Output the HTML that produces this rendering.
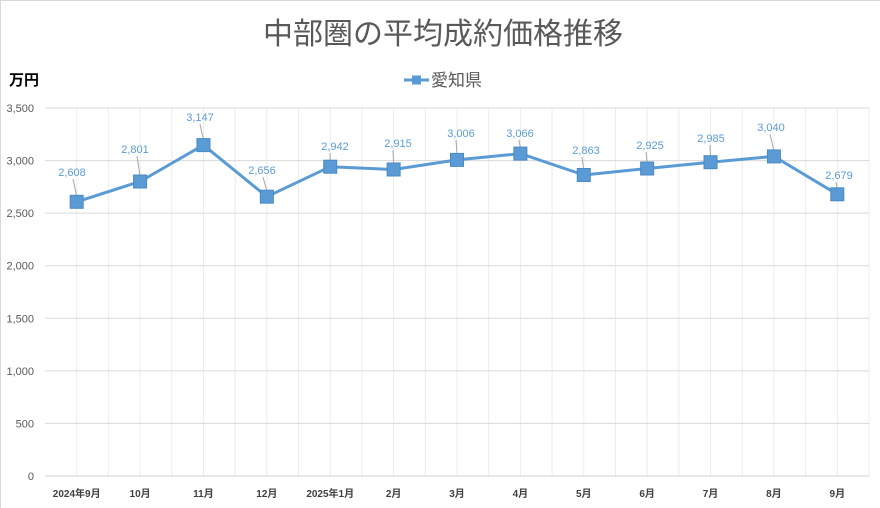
<!DOCTYPE html>
<html><head><meta charset="utf-8"><style>
html,body{margin:0;padding:0;background:#fff}
svg{display:block}
</style></head><body>
<svg width="880" height="508" xmlns="http://www.w3.org/2000/svg" font-family="Liberation Sans, Noto Sans CJK JP, sans-serif">
<rect x="0.5" y="0.5" width="890" height="520" fill="#fff" stroke="#d9d9d9"/>
<text x="443" y="44" font-size="30" fill="#595959" text-anchor="middle" font-family="Noto Sans CJK JP, sans-serif">中部圏の平均成約価格推移</text>
<text x="9" y="85" font-size="15" font-weight="bold" fill="#000" font-family="Noto Sans CJK JP, sans-serif">万円</text>
<line x1="404" y1="80" x2="429" y2="80" stroke="#5b9bd5" stroke-width="3"/>
<rect x="412" y="75.5" width="9" height="9" fill="#5b9bd5"/>
<text x="431" y="86" font-size="17" fill="#595959" font-family="Noto Sans CJK JP, sans-serif">愛知県</text>
<g stroke="#ececec" stroke-width="1">
<line x1="76.69" y1="108" x2="76.69" y2="476"/><line x1="108.38" y1="108" x2="108.38" y2="476"/><line x1="140.08" y1="108" x2="140.08" y2="476"/><line x1="171.77" y1="108" x2="171.77" y2="476"/><line x1="203.46" y1="108" x2="203.46" y2="476"/><line x1="235.15" y1="108" x2="235.15" y2="476"/><line x1="266.85" y1="108" x2="266.85" y2="476"/><line x1="298.54" y1="108" x2="298.54" y2="476"/><line x1="330.23" y1="108" x2="330.23" y2="476"/><line x1="361.92" y1="108" x2="361.92" y2="476"/><line x1="393.62" y1="108" x2="393.62" y2="476"/><line x1="425.31" y1="108" x2="425.31" y2="476"/><line x1="457" y1="108" x2="457" y2="476"/><line x1="488.69" y1="108" x2="488.69" y2="476"/><line x1="520.38" y1="108" x2="520.38" y2="476"/><line x1="552.08" y1="108" x2="552.08" y2="476"/><line x1="583.77" y1="108" x2="583.77" y2="476"/><line x1="615.46" y1="108" x2="615.46" y2="476"/><line x1="647.15" y1="108" x2="647.15" y2="476"/><line x1="678.85" y1="108" x2="678.85" y2="476"/><line x1="710.54" y1="108" x2="710.54" y2="476"/><line x1="742.23" y1="108" x2="742.23" y2="476"/><line x1="773.92" y1="108" x2="773.92" y2="476"/><line x1="805.62" y1="108" x2="805.62" y2="476"/><line x1="837.31" y1="108" x2="837.31" y2="476"/><line x1="869" y1="108" x2="869" y2="476"/>
</g>
<g stroke="#d9d9d9" stroke-width="1">
<line x1="45" y1="108" x2="869" y2="108"/><line x1="45" y1="160.57" x2="869" y2="160.57"/><line x1="45" y1="213.14" x2="869" y2="213.14"/><line x1="45" y1="265.71" x2="869" y2="265.71"/><line x1="45" y1="318.29" x2="869" y2="318.29"/><line x1="45" y1="370.86" x2="869" y2="370.86"/><line x1="45" y1="423.43" x2="869" y2="423.43"/><line x1="45" y1="476" x2="869" y2="476" stroke="#d0d0d0"/>
</g>
<g font-size="11" fill="#595959" text-anchor="end">
<text x="34" y="112">3,500</text><text x="34" y="164.6">3,000</text><text x="34" y="217.1">2,500</text><text x="34" y="269.7">2,000</text><text x="34" y="322.3">1,500</text><text x="34" y="374.9">1,000</text><text x="34" y="427.4">500</text><text x="34" y="480">0</text>
</g>
<g font-size="10" font-weight="bold" fill="#404040" text-anchor="middle">
<text x="76.69" y="497">2024年9月</text><text x="140.08" y="497">10月</text><text x="203.46" y="497">11月</text><text x="266.85" y="497">12月</text><text x="330.23" y="497">2025年1月</text><text x="393.62" y="497">2月</text><text x="457" y="497">3月</text><text x="520.38" y="497">4月</text><text x="583.77" y="497">5月</text><text x="647.15" y="497">6月</text><text x="710.54" y="497">7月</text><text x="773.92" y="497">8月</text><text x="837.31" y="497">9月</text>
</g>
<g stroke="#a6a6a6" stroke-width="1">
<line x1="73" y1="179" x2="76.69" y2="196"/><line x1="137" y1="156" x2="140.08" y2="176"/><line x1="200" y1="124" x2="203.46" y2="140"/><line x1="263" y1="177" x2="266.85" y2="191"/><line x1="330" y1="153" x2="330.23" y2="161"/><line x1="393" y1="150" x2="393.62" y2="164"/><line x1="456" y1="140" x2="457" y2="154"/><line x1="519" y1="140" x2="520.38" y2="148"/><line x1="582" y1="157" x2="583.77" y2="170"/><line x1="646" y1="152" x2="647.15" y2="163"/><line x1="710" y1="145" x2="710.54" y2="157"/><line x1="770" y1="134" x2="773.92" y2="151"/><line x1="836" y1="182" x2="837.31" y2="189"/>
</g>
<polyline points="76.69,201.8 140.08,181.5 203.46,145.1 266.85,196.7 330.23,166.7 393.62,169.5 457,159.9 520.38,153.6 583.77,175 647.15,168.5 710.54,162.2 773.92,156.4 837.31,194.3" fill="none" stroke="#5b9bd5" stroke-width="3" stroke-linejoin="round"/>
<g fill="#5b9bd5" stroke="#4a8ac4" stroke-width="1">
<rect x="70.19" y="195.3" width="13" height="13"/><rect x="133.58" y="175" width="13" height="13"/><rect x="196.96" y="138.6" width="13" height="13"/><rect x="260.35" y="190.2" width="13" height="13"/><rect x="323.73" y="160.2" width="13" height="13"/><rect x="387.12" y="163" width="13" height="13"/><rect x="450.5" y="153.4" width="13" height="13"/><rect x="513.88" y="147.1" width="13" height="13"/><rect x="577.27" y="168.5" width="13" height="13"/><rect x="640.65" y="162" width="13" height="13"/><rect x="704.04" y="155.7" width="13" height="13"/><rect x="767.42" y="149.9" width="13" height="13"/><rect x="830.81" y="187.8" width="13" height="13"/>
</g>
<g font-size="11" fill="#5b9bd5" text-anchor="middle">
<text x="72" y="176">2,608</text><text x="135" y="153">2,801</text><text x="200" y="121">3,147</text><text x="262" y="174">2,656</text><text x="335" y="150">2,942</text><text x="398" y="147">2,915</text><text x="461" y="137">3,006</text><text x="520" y="137">3,066</text><text x="586" y="154">2,863</text><text x="650" y="149">2,925</text><text x="711" y="142">2,985</text><text x="771" y="131">3,040</text><text x="839" y="179">2,679</text>
</g>
</svg>
</body></html>
